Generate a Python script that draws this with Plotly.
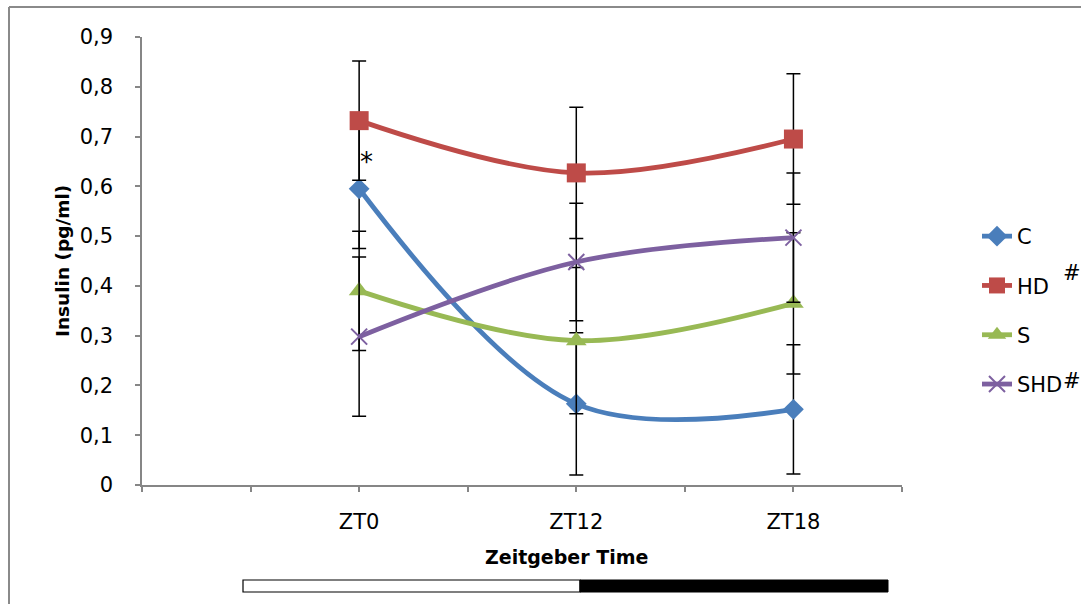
import plotly.graph_objects as go

# ---- data ----
categories = ["ZT0", "ZT12", "ZT18"]
cat_pos = [1, 2, 3]
series_names = ["C", "HD", "S", "SHD"]
C_vals = [0.595, 0.163, 0.152]
C_err = [0.120, 0.143, 0.130]
HD_vals = [0.732, 0.627, 0.695]
HD_err = [0.120, 0.132, 0.131]
S_vals = [0.390, 0.290, 0.365]
S_err = [0.120, 0.147, 0.142]
SHD_vals = [0.298, 0.448, 0.497]
SHD_err = [0.160, 0.118, 0.130]
y_ticks = [0, 0.1, 0.2, 0.3, 0.4, 0.5, 0.6, 0.7, 0.8, 0.9]
y_ticklabels = ["0", "0,1", "0,2", "0,3", "0,4", "0,5", "0,6", "0,7", "0,8", "0,9"]
x_ticks = [0, 0.5, 1, 1.5, 2, 2.5, 3, 3.5]
x_ticklabels = ["", "", "ZT0", "", "ZT12", "", "ZT18", ""]

FONT = "DejaVu Sans"
colors = ["#4A7EBB", "#BE4B48", "#98B954", "#7D60A0"]
symbols = ["diamond", "square", "triangle-up", "x-thin"]
sizes = [16, 19, 18, 16]
vals = [C_vals, HD_vals, S_vals, SHD_vals]
errs = [C_err, HD_err, S_err, SHD_err]

fig = go.Figure()
for name, v, e, col, sym, sz in zip(series_names, vals, errs, colors, symbols, sizes):
    marker = dict(symbol=sym, size=sz, color=col)
    if sym == "x-thin":
        marker["line"] = dict(color=col, width=2)
    fig.add_trace(go.Scatter(
        x=cat_pos, y=v, name=name, mode="lines+markers",
        line=dict(color=col, width=4.8, shape="spline", smoothing=1.0),
        marker=marker, legendgroup=name,
        error_y=dict(type="data", array=e, visible=True, color="black",
                     thickness=1.5, width=7),
    ))

W, H = 1081, 604
L, R, T, B = 142, 179, 37, 119
pw, ph = W - L - R, H - T - B
px = lambda x: (x - L) / pw
py = lambda y: (H - B - y) / ph

fig.update_layout(
    width=W, height=H, autosize=False,
    margin=dict(l=L, r=R, t=T, b=B, pad=0),
    paper_bgcolor="white", plot_bgcolor="white",
    font=dict(family=FONT, size=21, color="black"),
    showlegend=True,
    legend=dict(x=px(977), y=py(216), xanchor="left", yanchor="top",
                font=dict(family=FONT, size=21, color="black"),
                traceorder="grouped", tracegroupgap=19,
                bgcolor="rgba(0,0,0,0)"),
    xaxis=dict(range=[0, 3.5], tickvals=x_ticks, ticktext=x_ticklabels,
               showgrid=False, zeroline=False, showline=True,
               linecolor="#868686", linewidth=1.5, ticks="outside",
               ticklen=5, tickcolor="#868686", tickwidth=1.5,
               ticklabelstandoff=12, tickfont=dict(size=21)),
    yaxis=dict(range=[0, 0.9], tickvals=y_ticks, ticktext=y_ticklabels,
               showgrid=False, zeroline=False, showline=True,
               linecolor="#868686", linewidth=1.5, ticks="outside",
               ticklen=5, tickcolor="#868686", tickwidth=1.5,
               ticklabelstandoff=18, tickfont=dict(size=21)),
)

def note(x, y, text, size, xref="paper", yref="paper", **kw):
    return dict(x=x, y=y, xref=xref, yref=yref, text=text, showarrow=False,
                xanchor="center", yanchor="middle",
                font=dict(size=size, family=FONT, color="black"), **kw)

ann = [
    note(1, 0.648, "*", 26, xref="x", yref="y", xshift=7),
    note(px(1072), py(273), "#", 21),
    note(px(1072), py(381), "#", 21),
    note(px(566), py(557), "<b>Zeitgeber Time</b>", 19),
    note(px(62), py(261), "<b>Insulin (pg/ml)</b>", 18.5, textangle=-90),
]
fig.update_layout(annotations=ann)

shapes = [
    dict(type="line", xref="paper", yref="paper", x0=px(9), x1=px(1085),
         y0=py(7), y1=py(7), line=dict(color="#8a8a8a", width=2)),
    dict(type="line", xref="paper", yref="paper", x0=px(9), x1=px(9),
         y0=py(7), y1=py(610), line=dict(color="#8a8a8a", width=2)),
    dict(type="rect", xref="paper", yref="paper", x0=px(243), x1=px(580),
         y0=py(592), y1=py(580), fillcolor="white",
         line=dict(color="black", width=1.2)),
    dict(type="rect", xref="paper", yref="paper", x0=px(580), x1=px(888),
         y0=py(592), y1=py(580), fillcolor="black",
         line=dict(color="black", width=1)),
]
fig.update_layout(shapes=shapes)

fig.write_html(
    "out.html",
    config={"displayModeBar": False},
    post_script="document.body.style.margin='0';document.body.style.padding='0';"
                "document.documentElement.style.overflow='hidden';",
)
